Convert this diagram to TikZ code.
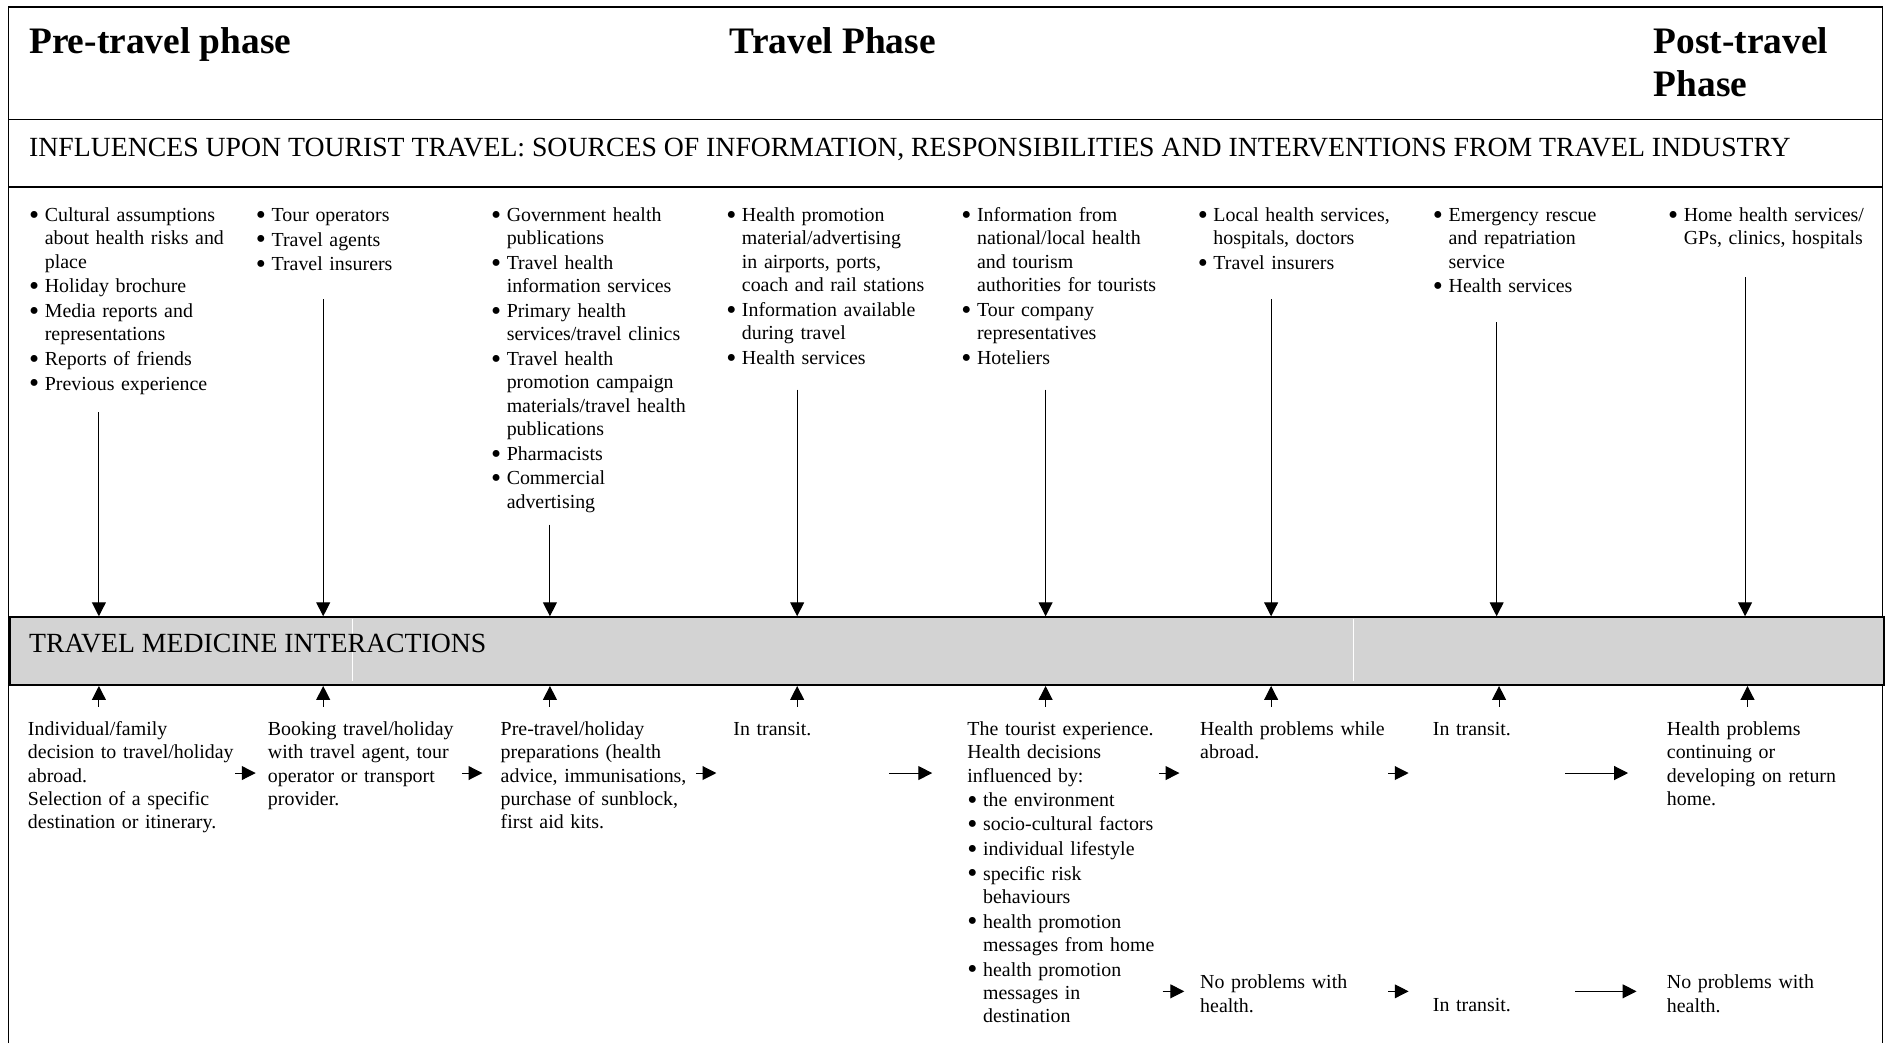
\documentclass[tikz,border=0pt]{standalone}
\usepackage{fontspec}
\setmainfont{Liberation Serif}
\usetikzlibrary{arrows.meta}
\definecolor{bandgray}{RGB}{211,211,211}
\tikzstyle{frame}=[line width=1.4pt]
\tikzstyle{phase}=[anchor=base west, inner sep=0pt, font=\bfseries\fontsize{31}{36}\selectfont]
\tikzstyle{caps}=[anchor=base west, inner sep=0pt, font=\fontsize{23}{26}\selectfont]
\tikzstyle{body}=[anchor=north west, inner sep=0pt, text width=180pt, align=left,
    font=\fontsize{16.5}{19.4}\selectfont]
\tikzstyle{bandbox}=[draw, line width=1.8pt, fill=bandgray, inner sep=0pt,
    minimum width=1554pt, minimum height=56pt, anchor=north west]
\tikzstyle{feedin}=[line width=0.9pt, -{Triangle[width=11.5pt,length=11.5pt]}]
\tikzstyle{stepon}=[line width=0.9pt, -{Triangle[width=11.5pt,length=11.5pt]}]
% one bullet item, hanging indent
\newcommand\bul[1]{\par\hangindent=13pt\hangafter=1\noindent
    \makebox[13pt][l]{\strut\raisebox{-2.4pt}{\scalebox{1.45}{\textbullet}}}#1\par\vspace{1pt}}
\begin{document}
\begin{tikzpicture}[x=1pt, y=-1pt]
\useasboundingbox (0,0) rectangle (1568,865);
% frame and rules
\draw[frame] (7,865) -- (7,6) -- (1561,6) -- (1561,865);
\draw[frame] (7,99) -- (1561,99);
\draw[frame] (7,155) -- (1561,155);

% phases
\node[phase] (pre) at (24,44) {Pre-travel phase};
\node[phase] (trav) at (605,44) {Travel Phase};
\node[phase] (post) at (1371,44) {Post-travel};
\node[phase] (post2) at (1371,80) {Phase};
\node[caps] (influ) at (24,129.5) {INFLUENCES UPON TOURIST TRAVEL: SOURCES OF INFORMATION, RESPONSIBILITIES AND INTERVENTIONS FROM TRAVEL INDUSTRY};

% sources of information
\node[body] (src1) at (24,164) {%
    \bul{Cultural assumptions\newline about health risks and\newline place}
    \bul{Holiday brochure}
    \bul{Media reports and\newline representations}
    \bul{Reports of friends}
    \bul{Previous experience}};
\node[body] (src2) at (212,164) {%
    \bul{Tour operators}
    \bul{Travel agents}
    \bul{Travel insurers}};
\node[body] (src3) at (407,164) {%
    \bul{Government health\newline publications}
    \bul{Travel health\newline information services}
    \bul{Primary health\newline services/travel clinics}
    \bul{Travel health\newline promotion campaign\newline materials/travel health\newline publications}
    \bul{Pharmacists}
    \bul{Commercial\newline advertising}};
\node[body] (src4) at (602,164) {%
    \bul{Health promotion\newline material/advertising\newline in airports, ports,\newline coach and rail stations}
    \bul{Information available\newline during travel}
    \bul{Health services}};
\node[body] (src5) at (797,164) {%
    \bul{Information from\newline national/local health\newline and tourism\newline authorities for tourists}
    \bul{Tour company\newline representatives}
    \bul{Hoteliers}};
\node[body] (src6) at (993,164) {%
    \bul{Local health services,\newline hospitals, doctors}
    \bul{Travel insurers}};
\node[body] (src7) at (1188,164) {%
    \bul{Emergency rescue\newline and repatriation\newline service}
    \bul{Health services}};
\node[body] (src8) at (1383,164) {%
    \bul{Home health services/\newline GPs, clinics, hospitals}};

% interactions band
\node[bandbox] (band) at (7,511) {};
\draw[white, line width=0.6pt] (292,513) -- (292,565);
\draw[white, line width=0.6pt] (1122,513) -- (1122,565);
\node[caps] (tmi) at (24,541) {TRAVEL MEDICINE INTERACTIONS};

% arrows into and out of the band
\foreach \x/\y [count=\i] in {82/342, 268/248, 456/435, 661/323, 867/323, 1054/248, 1241/267, 1447/230} {
    \coordinate (s\i) at (\x,\y);
    \draw[feedin] (s\i) -- (s\i |- band.north);
}
\foreach \x [count=\i] in {82, 268, 456, 661, 867, 1054, 1243, 1449} {
    \coordinate (u\i) at (\x,586);
    \draw[feedin] (u\i) -- (u\i |- band.south);
}

% tourist journey
\node[body] (act1) at (23,596) {\strut Individual/family\newline decision to travel/holiday\newline abroad.\newline Selection of a specific\newline destination or itinerary.};
\node[body] (act2) at (222,596) {\strut Booking travel/holiday\newline with travel agent, tour\newline operator or transport\newline provider.};
\node[body] (act3) at (415,596) {\strut Pre-travel/holiday\newline preparations (health\newline advice, immunisations,\newline purchase of sunblock,\newline first aid kits.};
\node[body] (act4) at (608,596) {\strut In transit.};
\node[body] (act5) at (802,596) {\strut The tourist experience.\newline Health decisions\newline influenced by:\par\vspace{0.5pt}
    \bul{the environment}
    \bul{socio-cultural factors}
    \bul{individual lifestyle}
    \bul{specific risk\newline behaviours}
    \bul{health promotion\newline messages from home}
    \bul{health promotion\newline messages in\newline destination}};
\node[body] (act6) at (995,596) {\strut Health problems while\newline abroad.};
\node[body] (act7) at (1188,596) {\strut In transit.};
\node[body] (act8) at (1382,596) {\strut Health problems\newline continuing or\newline developing on return\newline home.};
\node[body] (ok6) at (995,806) {\strut No problems with\newline health.};
\node[body] (act7b) at (1188,825) {\strut In transit.};
\node[body] (ok8) at (1382,806) {\strut No problems with\newline health.};

% steps along the journey
\foreach \a/\b/\y [count=\i] in {195/212/641, 383/400/641, 577/594/641, 737/773/641,
    961/978/641, 1151/1168/641, 1298/1350/641, 964/982/822, 1151/1168/822, 1306/1357/822} {
    \coordinate (fa\i) at (\a,\y);
    \coordinate (fb\i) at (\b,\y);
    \draw[stepon] (fa\i) -- (fb\i);
}
\end{tikzpicture}
\end{document}
